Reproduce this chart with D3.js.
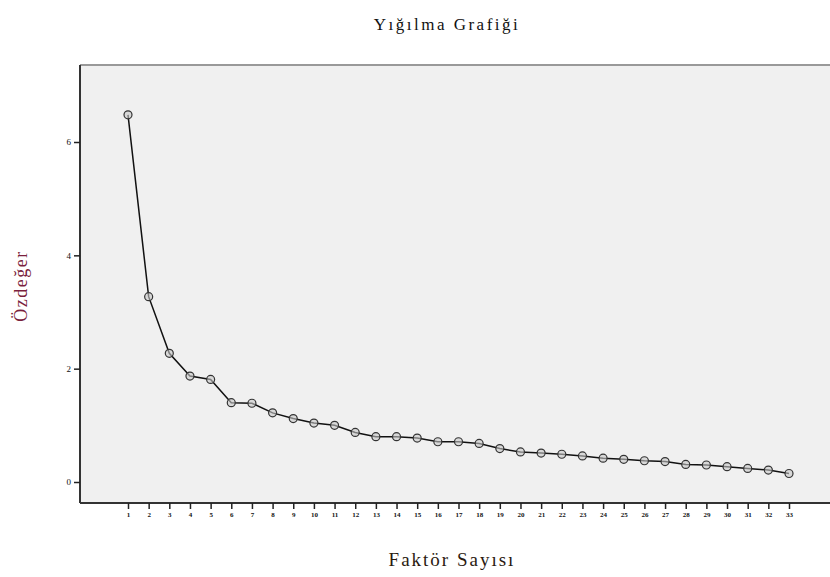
<!DOCTYPE html>
<html><head><meta charset="utf-8">
<script src="https://cdn.jsdelivr.net/npm/d3@7"></script>
<style>body{margin:0;background:#fff}</style>
</head><body>
<svg id="c" width="830" height="577"></svg>
<script>
const factors = d3.range(1, 34);
const eigenvalues = [6.48,3.27,2.27,1.87,1.81,1.40,1.39,1.22,1.12,1.04,1.00,0.875,0.80,0.80,0.775,0.71,0.71,0.68,0.59,0.53,0.51,0.49,0.46,0.42,0.40,0.375,0.36,0.31,0.30,0.27,0.24,0.21,0.15];
const yTicks = [0,2,4,6];
const title = "Yığılma Grafiği", xLabel = "Faktör Sayısı", yLabel = "Özdeğer";

const svg = d3.select("#c");
const L = 80, T = 65, R = 830, B = 503;
const x = d3.scaleLinear().domain([1,33]).range([128,789]);
const y = d3.scaleLinear().domain([0,6]).range([482,142]);

svg.append("rect").attr("x",L).attr("y",T).attr("width",R-L).attr("height",B-T).attr("fill","#f0f0f0");
svg.append("line").attr("x1",L).attr("x2",R).attr("y1",T).attr("y2",T).attr("stroke","#999").attr("stroke-width",2);

const xa = svg.append("g").attr("transform",`translate(0,${B})`)
  .call(d3.axisBottom(x).tickValues(factors).tickFormat(d3.format("d")).tickSize(6).tickSizeOuter(0));
xa.select(".domain").attr("stroke","#333").attr("stroke-width",2).attr("d",`M${L},0H${R}`);
xa.selectAll(".tick line").attr("stroke","#222").attr("stroke-width",1.5);
xa.selectAll("text").attr("font-family","Liberation Serif").attr("font-size",7).attr("font-weight","bold").attr("fill","#111").attr("dy","0.7em");

const ya = svg.append("g").attr("transform",`translate(${L},0)`)
  .call(d3.axisLeft(y).tickValues(yTicks).tickFormat(d3.format("d")).tickSize(6).tickSizeOuter(0));
ya.select(".domain").attr("stroke","#333").attr("stroke-width",2).attr("d",`M0,${T}V${B}`);
ya.selectAll(".tick line").attr("stroke","#222").attr("stroke-width",1.5);
ya.selectAll("text").attr("font-family","Liberation Serif").attr("font-size",9).attr("fill","#111").attr("x",-9);

const line = d3.line().x((d,i)=>x(factors[i])).y(d=>y(d));
svg.append("path").datum(eigenvalues).attr("d",line).attr("fill","none").attr("stroke","#111").attr("stroke-width",1.5);
svg.selectAll("circle.pt").data(eigenvalues).join("circle").attr("class","pt")
  .attr("cx",(d,i)=>x(factors[i])).attr("cy",d=>y(d)).attr("r",4)
  .attr("fill","#c8c8c8").attr("fill-opacity",0.6).attr("stroke","#333").attr("stroke-width",1.2);

svg.append("text").attr("x",447).attr("y",30).attr("text-anchor","middle").attr("letter-spacing",2.5)
  .attr("font-family","Liberation Serif").attr("font-size",17).attr("fill","#111").text(title);
svg.append("text").attr("x",452).attr("y",566).attr("text-anchor","middle").attr("letter-spacing",2)
  .attr("font-family","Liberation Serif").attr("font-size",19).attr("fill","#2a1a10").text(xLabel);
svg.append("text").attr("transform","translate(27,286) rotate(-90)").attr("text-anchor","middle").attr("letter-spacing",1.5)
  .attr("font-family","Liberation Serif").attr("font-size",18).attr("fill","#7a1f3d").text(yLabel);
</script>
</body></html>
